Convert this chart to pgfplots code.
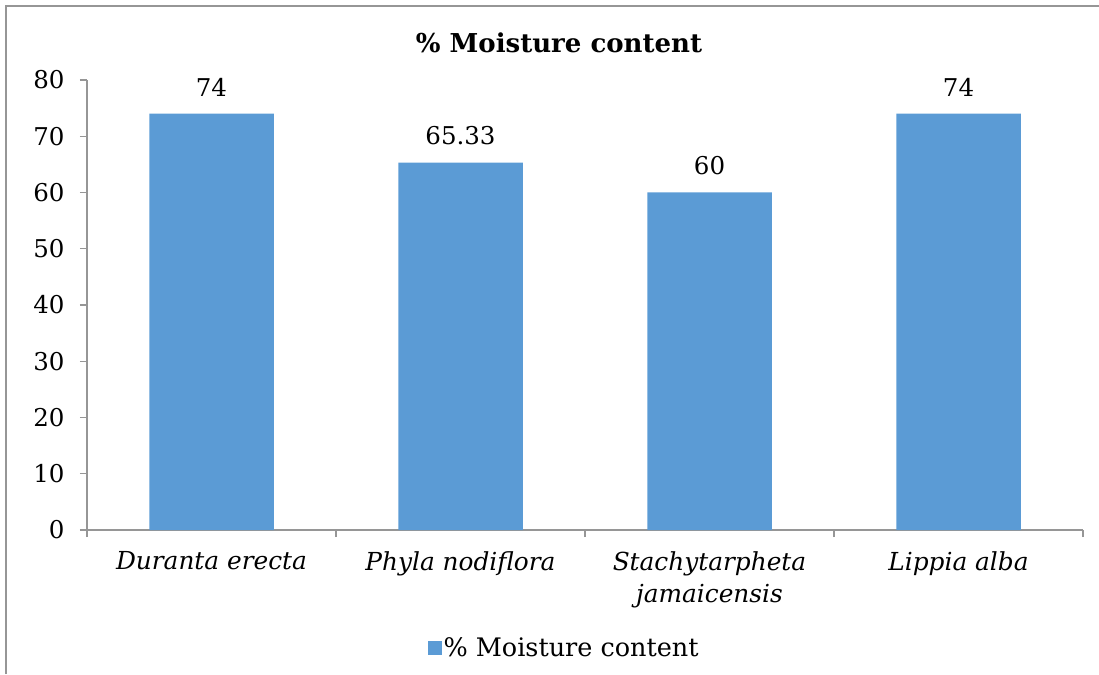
\documentclass[border=0pt]{standalone}
\usepackage{pgfplots}
\pgfplotsset{compat=1.18}
\usepackage{fontspec}
\setmainfont{DejaVu Serif}
\definecolor{barblue}{HTML}{5B9BD5}
\definecolor{axgray}{HTML}{969696}
\begin{document}
\begin{tikzpicture}[x=1pt,y=1pt]
\useasboundingbox (0pt,0pt) rectangle (1099pt,674pt);
\draw[axgray, line width=1.6pt] (6pt,0pt) -- (6pt,668pt) -- (1099pt,668pt);
\node[font=\fontsize{26}{30}\selectfont\bfseries] at (559pt,631pt) {\% Moisture content};
\begin{axis}[
  at={(87pt,144pt)}, anchor=south west,
  scale only axis, width=996pt, height=450pt,
  xmin=-0.5, xmax=3.5, ymin=0, ymax=80,
  ytick={0,10,...,80},
  xtick={-0.5,0.5,1.5,2.5,3.5},
  xticklabels={},
  extra x ticks={0,1,2,3},
  extra x tick labels={{Duranta erecta},{Phyla nodiflora},{Stachytarpheta\\jamaicensis},{Lippia alba}},
  extra x tick style={major tick length=0pt, tick label style={font=\fontsize{24.8}{32}\selectfont\itshape, align=center, anchor=north, yshift=-18pt}},
  axis x line*=bottom, axis y line*=left,
  axis line style={axgray, line width=1.2pt},
  tick style={axgray, line width=1.2pt},
  major tick length=7pt,
  tick align=outside,
  yticklabel style={font=\fontsize{24.5}{28}\selectfont, anchor=east, xshift=-12pt},
  /pgf/number format/assume math mode=true,
  ybar, bar width=124.5pt,
  nodes near coords,
  every node near coord/.append style={font=\fontsize{24.5}{28}\selectfont, black, yshift=14pt},
  point meta=explicit symbolic,
  legend style={at={(0.479,-0.262)}, anchor=center, draw=none, font=\fontsize{25.5}{30}\selectfont, inner sep=0pt},
  legend image code/.code={\fill[barblue] (0pt,-7pt) rectangle (14pt,7pt);},
  legend cell align=left,
]
\addplot[fill=barblue, draw=none] coordinates {(0,74) [74] (1,65.33) [65.33] (2,60) [60] (3,74) [74]};
\addlegendentry{\% Moisture content}
\end{axis}
\end{tikzpicture}
\end{document}
